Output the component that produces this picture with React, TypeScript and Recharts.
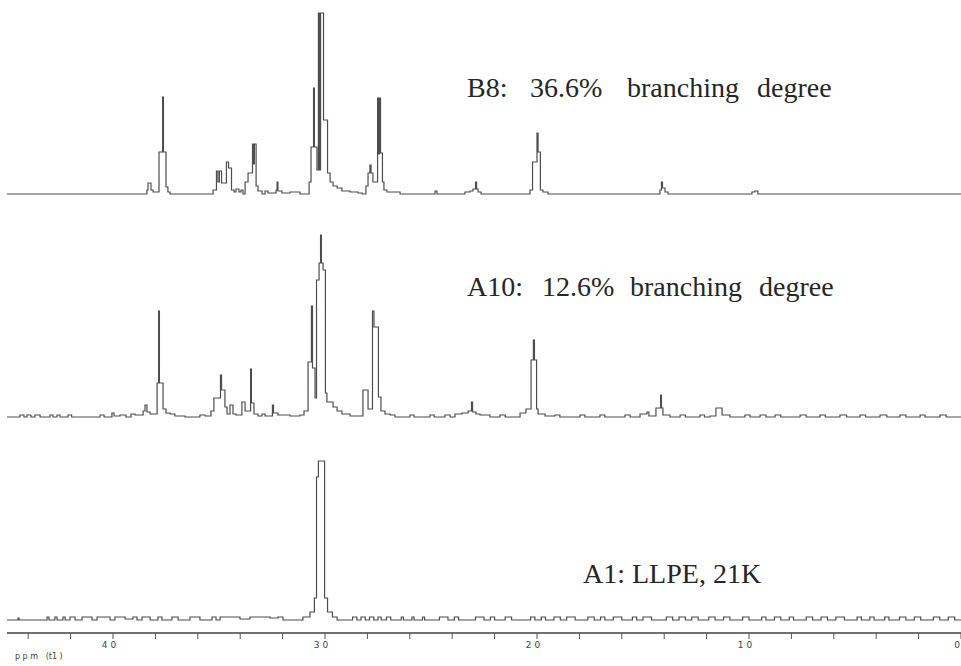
import React from "react";
import { LineChart, Line, XAxis, YAxis } from "recharts";

// chemical shift (ppm) and intensity (a.u.) pairs, read left to right
const B8_TRACE: [number, number][] = [
  [45.0, 0], [38.4, 4], [38.35, 11], [38.21, 4], [38.11, 2], [37.83, 42], [37.66, 97], [37.62, 42],
  [37.5, 7], [37.41, 2], [37.31, 0], [35.28, 4], [35.12, 23], [35.05, 12], [34.98, 23], [34.88, 11],
  [34.65, 32], [34.55, 26], [34.48, 26], [34.41, 4], [34.29, 2], [34.2, 5], [34.06, 2], [33.96, 4],
  [33.87, 0], [33.77, 12], [33.63, 21], [33.42, 50], [33.37, 30], [33.33, 50], [33.25, 8], [33.16, 3],
  [32.97, 0], [32.83, 3], [32.69, 1], [32.31, 4], [32.26, 12], [32.22, 3], [32.03, 1], [31.65, 2],
  [31.18, 0], [30.75, 12], [30.66, 47], [30.54, 106], [30.5, 47], [30.38, 24], [30.31, 181], [30.26, 24],
  [30.21, 181], [30.12, 181], [30.07, 74], [29.88, 21], [29.76, 12], [29.62, 8], [29.43, 6], [29.2, 3],
  [28.82, 2], [28.44, 1], [28.25, 0], [28.07, 8], [27.97, 21], [27.88, 29], [27.83, 21], [27.74, 12],
  [27.59, 12], [27.52, 96], [27.48, 40], [27.43, 96], [27.38, 41], [27.29, 12], [27.22, 4], [27.08, 2],
  [26.84, 2], [26.46, 0], [24.81, 3], [24.72, 0], [23.4, 2], [23.16, 3], [23.02, 5], [22.9, 12],
  [22.85, 5], [22.78, 2], [22.64, 0], [20.33, 4], [20.21, 32], [20.0, 61], [19.95, 42], [19.84, 4],
  [19.72, 2], [19.48, 0], [14.2, 4], [14.13, 12], [14.08, 6], [13.96, 2], [13.82, 0], [9.86, 2],
  [9.72, 3], [9.58, 0], [0, 0],
];

const A10_TRACE: [number, number][] = [
  [45.0, 0], [44.39, 2], [44.2, 0], [44.06, 2], [43.87, 0], [43.68, 2], [43.44, 0], [42.97, 2],
  [42.83, 0], [42.64, 2], [42.5, 0], [42.12, 2], [41.95, 0], [40.61, 2], [40.42, 0], [40.05, 4],
  [39.95, 1], [39.67, 2], [39.39, 0], [39.15, 3], [38.96, 2], [38.58, 6], [38.49, 12], [38.4, 5],
  [38.25, 3], [38.02, 3], [37.92, 34], [37.85, 106], [37.81, 34], [37.64, 8], [37.5, 4], [37.31, 3],
  [37.08, 1], [36.6, 0], [35.9, 2], [35.66, 1], [35.38, 6], [35.24, 19], [34.93, 42], [34.88, 27],
  [34.72, 10], [34.62, 3], [34.48, 12], [34.34, 3], [34.2, 2], [33.92, 15], [33.77, 6], [33.51, 48],
  [33.47, 14], [33.35, 3], [33.16, 1], [32.97, 3], [32.83, 1], [32.48, 12], [32.43, 4], [32.22, 2],
  [31.65, 1], [31.18, 2], [30.99, 6], [30.8, 55], [30.64, 111], [30.59, 49], [30.47, 19], [30.4, 137],
  [30.28, 154], [30.21, 182], [30.17, 154], [30.09, 147], [29.98, 24], [29.91, 15], [29.62, 10],
  [29.43, 6], [29.2, 3], [28.82, 1], [28.21, 27], [27.97, 8], [27.76, 106], [27.69, 90], [27.48, 20],
  [27.36, 6], [27.17, 3], [26.93, 2], [26.7, 0], [25.99, 2], [25.8, 0], [25.05, 2], [24.85, 0],
  [24.34, 2], [24.1, 0], [23.87, 3], [23.54, 4], [23.25, 6], [23.09, 15], [23.04, 5], [22.88, 3],
  [22.69, 2], [22.22, 0], [21.75, 2], [21.5, 0], [20.8, 4], [20.52, 8], [20.28, 57], [20.17, 77],
  [20.12, 57], [20.02, 8], [19.95, 3], [19.62, 1], [19.15, 2], [18.92, 0], [17.97, 2], [17.74, 0],
  [17.03, 2], [16.8, 0], [15.85, 2], [15.61, 0], [15.14, 3], [14.81, 5], [14.72, 1], [14.39, 9],
  [14.17, 22], [14.13, 9], [14.06, 2], [13.73, 0], [13.25, 2], [13.0, 0], [12.31, 2], [12.1, 0],
  [11.84, 1], [11.56, 9], [11.27, 2], [10.9, 0], [10.19, 2], [9.95, 0], [9.48, 2], [9.2, 0],
  [8.77, 2], [8.5, 0], [7.59, 2], [7.3, 0], [6.65, 2], [6.4, 0], [5.71, 2], [5.4, 0], [4.76, 2],
  [4.5, 0], [3.82, 2], [3.5, 0], [2.88, 2], [2.6, 0], [1.93, 2], [1.7, 0], [0.99, 2], [0.7, 0], [0, 0],
];

const A1_TRACE: [number, number][] = [
  [45.0, 0], [44.48, 2], [44.43, 0], [43.11, 3], [43.02, 0], [42.74, 3], [42.64, 0], [42.36, 3],
  [42.26, 0], [42.03, 3], [41.79, 0], [41.46, 3], [40.99, 0], [40.75, 3], [40.14, 0], [39.91, 3],
  [39.43, 1], [39.06, 3], [38.87, 0], [38.63, 3], [38.25, 0], [37.88, 3], [37.69, 0], [37.22, 3],
  [36.93, 0], [36.37, 3], [35.9, 0], [35.33, 3], [35.14, 0], [34.95, 3], [34.01, 1], [33.54, 3],
  [32.59, 2], [32.22, 3], [31.98, 0], [31.04, 3], [30.71, 8], [30.5, 22], [30.4, 143], [30.31, 159],
  [30.02, 22], [29.88, 8], [29.65, 3], [29.43, 0], [28.7, 3], [28.5, 0], [28.3, 3], [28.1, 0],
  [27.9, 3], [27.7, 0], [27.5, 3], [27.35, 0], [27.1, 3], [26.9, 0], [26.4, 3], [26.3, 0], [25.9, 3],
  [25.8, 0], [25.4, 3], [25.3, 0], [24.6, 3], [24.2, 0], [23.9, 3], [23.7, 0], [22.9, 3], [22.5, 0],
  [22.2, 3], [22.0, 0], [21.5, 3], [21.2, 0], [20.3, 3], [20.1, 0], [19.8, 3], [19.6, 0], [19.2, 3],
  [18.9, 0], [18.6, 3], [18.2, 0], [17.6, 3], [17.3, 0], [17.0, 3], [16.8, 0], [16.4, 3], [16.0, 0],
  [15.5, 3], [15.3, 0], [15.0, 3], [14.6, 0], [13.9, 3], [13.6, 0], [13.3, 3], [13.0, 0], [12.7, 3],
  [12.4, 0], [11.9, 3], [11.6, 0], [11.2, 3], [10.9, 0], [10.3, 3], [10.0, 0], [9.4, 3], [9.2, 0],
  [8.8, 3], [8.5, 0], [8.1, 3], [7.9, 0], [7.3, 3], [7.0, 0], [6.6, 3], [6.3, 0], [5.9, 3], [5.5, 0],
  [4.9, 3], [4.7, 0], [4.3, 3], [4.1, 0], [3.6, 3], [3.4, 0], [2.9, 3], [2.6, 0], [2.2, 3], [1.9, 0],
  [1.3, 3], [1.0, 0], [0.6, 3], [0.3, 0], [0, 0],
];

const X_TICKS = [44, 42, 40, 38, 36, 34, 32, 30, 28, 26, 24, 22, 20, 18, 16, 14, 12, 10, 8, 6, 4, 2, 0];
const TICK_LABELS: Record<number, string> = { 40: "4 0", 30: "3 0", 20: "2 0", 10: "1 0", 0: "0" };

const toRows = (trace: [number, number][]) => trace.map(([ppm, i]) => ({ ppm, i }));

const LINE_COLOR = "#4d4d4d";
const serif: React.CSSProperties = {
  position: "absolute",
  fontFamily: "'Liberation Serif', 'Times New Roman', serif",
  fontSize: 28,
  lineHeight: "28px",
  color: "#262626",
  whiteSpace: "nowrap",
};

// tick label; the last one (0 ppm) sits on the right edge so it is anchored to its end
const PpmTick = ({ x, y, payload }: any) => {
  const label = TICK_LABELS[payload.value];
  if (!label) return null;
  const atEdge = payload.value === 0;
  return (
    <text
      x={atEdge ? x - 1 : x - 4}
      y={y}
      dy="0.71em"
      textAnchor={atEdge ? "end" : "middle"}
      fontSize={9}
      fill="#444"
      fontFamily="'DejaVu Sans', sans-serif"
    >
      {label}
    </text>
  );
};

export default function App() {
  return (
    <div style={{ position: "absolute", left: 0, top: 0, width: 961, height: 666, background: "#fff", overflow: "hidden" }}>
      <LineChart width={961} height={666} margin={{ top: 0, right: 0, bottom: 0, left: 7 }}>
        <XAxis
          dataKey="ppm"
          type="number"
          domain={[0, 45]}
          reversed
          allowDataOverflow
          ticks={X_TICKS}
          interval={0}
          height={33}
          tickSize={6}
          tickMargin={3}
          axisLine={{ stroke: "#707070", strokeWidth: 2 }}
          tickLine={{ stroke: "#555" }}
          tick={<PpmTick />}
        />
        <YAxis yAxisId="b8" hide type="number" domain={[-439, 194]} allowDataOverflow />
        <YAxis yAxisId="a10" hide type="number" domain={[-216, 417]} allowDataOverflow />
        <YAxis yAxisId="a1" hide type="number" domain={[-13, 620]} allowDataOverflow />
        <Line yAxisId="b8" data={toRows(B8_TRACE)} dataKey="i" type="stepAfter" stroke={LINE_COLOR} strokeWidth={1.2} dot={false} isAnimationActive={false} />
        <Line yAxisId="a10" data={toRows(A10_TRACE)} dataKey="i" type="stepAfter" stroke={LINE_COLOR} strokeWidth={1.2} dot={false} isAnimationActive={false} />
        <Line yAxisId="a1" data={toRows(A1_TRACE)} dataKey="i" type="stepAfter" stroke={LINE_COLOR} strokeWidth={1.2} dot={false} isAnimationActive={false} />
      </LineChart>

      <span style={{ ...serif, left: 467, top: 74 }}>B8:</span>
      <span style={{ ...serif, left: 530, top: 74 }}>36.6%</span>
      <span style={{ ...serif, left: 627, top: 74 }}>branching</span>
      <span style={{ ...serif, left: 757, top: 74 }}>degree</span>

      <span style={{ ...serif, left: 467, top: 273 }}>A10:</span>
      <span style={{ ...serif, left: 542, top: 273 }}>12.6%</span>
      <span style={{ ...serif, left: 630, top: 273 }}>branching</span>
      <span style={{ ...serif, left: 759, top: 273 }}>degree</span>

      <span style={{ ...serif, left: 583, top: 560 }}>A1: LLPE, 21K</span>

      <span
        style={{
          position: "absolute",
          left: 15,
          top: 652,
          fontFamily: "'DejaVu Sans', sans-serif",
          fontSize: 8,
          color: "#444",
          whiteSpace: "pre",
        }}
      >
        {"p p m   (t1 )"}
      </span>
    </div>
  );
}
